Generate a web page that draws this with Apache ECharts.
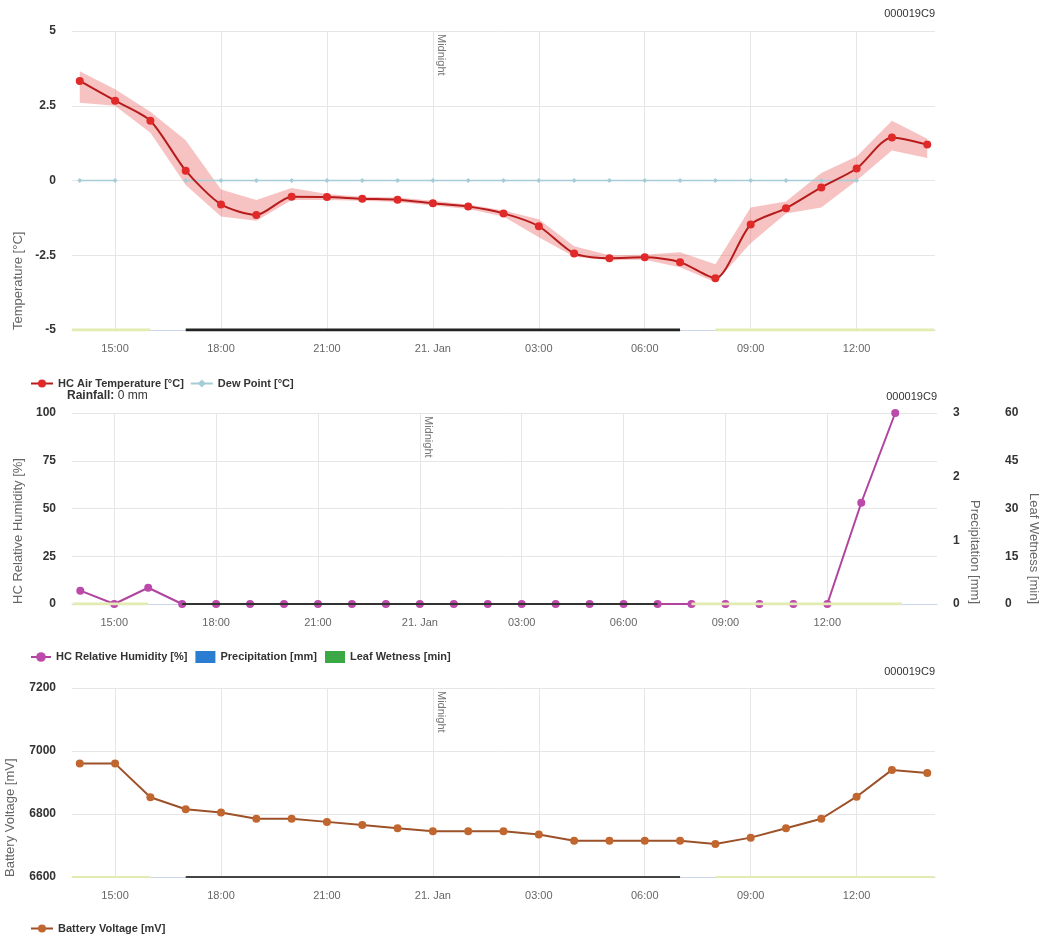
<!DOCTYPE html>
<html>
<head>
<meta charset="utf-8">
<script src="https://cdn.jsdelivr.net/npm/echarts@6/dist/echarts.min.js"></script>
<style>
html,body{margin:0;padding:0;background:#fff;}
#c{width:1051px;height:939px;}
</style>
</head>
<body>
<div id="c"></div>
<script>
// ---------------- DATA ----------------
const hours = [14,15,16,17,18,19,20,21,22,23,24,25,26,27,28,29,30,31,32,33,34,35,36,37,38];
const tempValues = [3.33,2.67,2.0,0.33,-0.8,-1.15,-0.54,-0.55,-0.61,-0.64,-0.76,-0.87,-1.1,-1.53,-2.44,-2.6,-2.57,-2.73,-3.27,-1.47,-0.93,-0.23,0.4,1.44,1.2];
const tempLow  = [2.6,2.5,1.6,-0.15,-1.2,-1.35,-0.65,-0.65,-0.68,-0.72,-0.84,-0.95,-1.2,-1.9,-2.55,-2.67,-2.65,-2.9,-3.4,-2.1,-1.1,-0.9,0.0,1.0,0.75];
const tempHigh = [3.65,3.05,2.3,1.35,-0.3,-0.65,-0.25,-0.45,-0.54,-0.57,-0.68,-0.8,-1.0,-1.3,-2.2,-2.5,-2.48,-2.4,-2.8,-0.9,-0.7,0.25,0.8,2.0,1.4];
const dewValues = [0,0,null,0,0,0,0,0,0,0,0,0,0,0,0,0,0,0,0,0,0,0,0,null,1.2];
const humidityValues = [7,0,8.5,0,0,0,0,0,0,0,0,0,0,0,0,0,0,0,0,0,0,0,0,53,100];
const precipitationValues = [0,0,0,0,0,0,0,0,0,0,0,0,0,0,0,0,0,0,0,0,0,0,0,0,0];
const leafWetnessValues = [0,0,0,0,0,0,0,0,0,0,0,0,0,0,0,0,0,0,0,0,0,0,0,0,0];
const batteryValues = [6960,6960,6853,6815,6805,6785,6785,6775,6765,6755,6745,6745,6745,6735,6715,6715,6715,6715,6705,6725,6755,6785,6855,6940,6930];

const xTickHours = [15,18,21,24,27,30,33,36];
const xTickLabels = ['15:00','18:00','21:00','21. Jan','03:00','06:00','09:00','12:00'];
const midnightHour = 24;
const nightSpans = [[17,31]];
const daySpans = [[13.78,16],[32,38.2]];

const tempAxis = {min:-5, max:5, interval:2.5};
const humidityAxis = {min:0, max:100, interval:25};
const precipAxis = {min:0, max:3, interval:1};
const leafAxis = {min:0, max:60, interval:15};
const batteryAxis = {min:6600, max:7200, interval:200};

const deviceId = '000019C9';
const rainfallText = '0 mm';

// ---------------- LAYOUT ----------------
const FONT = '"Liberation Sans", Arial, sans-serif';
const grids = [
  {left:72, top:31, width:863, height:299},
  {left:72, top:413, width:865, height:191},
  {left:72, top:688, width:863, height:189}
];
const xRanges = [[13.78,38.22],[13.756,39.23],[13.78,38.22]];

const pairs = (vals) => hours.map((h,i) => [h, vals[i]]);

function xAxisFor(i){
  return {
    type:'value', gridIndex:i, min:xRanges[i][0], max:xRanges[i][1],
    axisLine:{show:true, onZero:false, lineStyle:{color:'#ccd6eb', width:1}},
    axisTick:{show:false, customValues:xTickHours},
    axisLabel:{customValues:xTickHours, color:'#666', fontSize:11, margin:13, fontFamily:FONT,
      formatter:(v)=>{ const k = xTickHours.indexOf(Math.round(v)); return k>=0 ? xTickLabels[k] : ''; }},
    splitLine:{show:true, lineStyle:{color:'#e6e6e6', width:1}}
  };
}
function yAxisFor(gi, ax, extra){
  return Object.assign({
    type:'value', gridIndex:gi, min:ax.min, max:ax.max, interval:ax.interval,
    axisLine:{show:false}, axisTick:{show:false},
    axisLabel:{color:'#333', fontWeight:'bold', fontSize:12, margin:16, fontFamily:FONT, formatter:(v)=>String(v)},
    splitLine:{show:true, lineStyle:{color:'#e6e6e6', width:1}}
  }, extra || {});
}

function spanSeries(gi, yi, yMin, spans, color, width){
  return spans.map(s => ({
    type:'line', xAxisIndex:gi, yAxisIndex:yi,
    data:[[s[0], yMin],[s[1], yMin]],
    symbol:'none', silent:true, z:4,
    lineStyle:{color:color, width:width}
  }));
}

const DAY = '#e4ebb2';
const series = [
  // temperature min/max band drawn as one polygon through the axis scales
  {type:'custom', xAxisIndex:0, yAxisIndex:0, silent:true, z:1,
   data:pairs(tempValues),
   renderItem:(params, api)=>{
     if (params.dataIndex !== 0) return null;
     const upper = hours.map((h,i)=>api.coord([h, tempHigh[i]]));
     const lower = hours.map((h,i)=>api.coord([h, tempLow[i]])).reverse();
     return {type:'polygon', shape:{points:upper.concat(lower)},
       style:{fill:'rgba(235,95,95,0.38)'}};
   }},
  {type:'line', name:'Dew Point [°C]', xAxisIndex:0, yAxisIndex:0, data:pairs(dewValues),
   symbol:'diamond', symbolSize:5, connectNulls:false,
   lineStyle:{color:'#a6cdd6', width:1.5}, itemStyle:{color:'#a6cdd6'}, z:2},
  {type:'line', name:'HC Air Temperature [°C]', xAxisIndex:0, yAxisIndex:0, data:pairs(tempValues),
   symbol:'circle', symbolSize:8, smooth:0.25,
   lineStyle:{color:'#b71c1c', width:2}, itemStyle:{color:'#e02a2a'}, z:3},
  ...spanSeries(0, 0, tempAxis.min, daySpans, DAY, 3),
  ...spanSeries(0, 0, tempAxis.min, nightSpans, '#222', 3),

  // humidity chart
  {type:'line', name:'HC Relative Humidity [%]', xAxisIndex:1, yAxisIndex:1, data:pairs(humidityValues),
   symbol:'circle', symbolSize:8,
   lineStyle:{color:'#b0449f', width:2}, itemStyle:{color:'#bb4aaa'}, z:2},
  {type:'bar', name:'Precipitation [mm]', xAxisIndex:1, yAxisIndex:2, data:pairs(precipitationValues),
   itemStyle:{color:'#2a7dd1'}, barWidth:10},
  {type:'bar', name:'Leaf Wetness [min]', xAxisIndex:1, yAxisIndex:3, data:pairs(leafWetnessValues),
   itemStyle:{color:'#39a845'}, barWidth:10},
  ...spanSeries(1, 1, humidityAxis.min, daySpans, DAY, 3),
  ...spanSeries(1, 1, humidityAxis.min, nightSpans, '#333', 2),

  // battery chart
  {type:'line', name:'Battery Voltage [mV]', xAxisIndex:2, yAxisIndex:4, data:pairs(batteryValues),
   symbol:'circle', symbolSize:8,
   lineStyle:{color:'#9c5128', width:2}, itemStyle:{color:'#c2662f'}, z:3},
  ...spanSeries(2, 4, batteryAxis.min, daySpans, DAY, 2),
  ...spanSeries(2, 4, batteryAxis.min, nightSpans, '#444', 2)
];

const legendText = {color:'#333', fontWeight:'bold', fontSize:11, fontFamily:FONT};
const option = {
  animation:false,
  textStyle:{fontFamily:FONT},
  grid:grids.map(g=>Object.assign({containLabel:false}, g)),
  xAxis:[xAxisFor(0), xAxisFor(1), xAxisFor(2)],
  yAxis:[
    yAxisFor(0, tempAxis),
    yAxisFor(1, humidityAxis),
    yAxisFor(1, precipAxis, {position:'right', splitLine:{show:false},
      axisLabel:{color:'#333', fontWeight:'bold', fontSize:12, margin:16, fontFamily:FONT}}),
    yAxisFor(1, leafAxis, {position:'right', offset:50, splitLine:{show:false},
      axisLabel:{color:'#333', fontWeight:'bold', fontSize:12, margin:18, fontFamily:FONT}}),
    yAxisFor(2, batteryAxis)
  ],
  title:[
    {text:deviceId, right:116, top:8, padding:0, textStyle:{fontSize:11, fontWeight:'normal', color:'#333', fontFamily:FONT}},
    {text:'{b|Rainfall:} ' + rainfallText, left:67, top:390, padding:0,
     textStyle:{fontSize:12, fontWeight:'normal', color:'#333', fontFamily:FONT,
       rich:{b:{fontWeight:'bold', fontSize:12, color:'#333', fontFamily:FONT}}}},
    {text:deviceId, right:114, top:391, padding:0, textStyle:{fontSize:11, fontWeight:'normal', color:'#333', fontFamily:FONT}},
    {text:deviceId, right:116, top:666, padding:0, textStyle:{fontSize:11, fontWeight:'normal', color:'#333', fontFamily:FONT}}
  ],
  legend:[
    {data:['HC Air Temperature [°C]','Dew Point [°C]'], left:30, top:378, itemGap:6, itemWidth:22, itemHeight:10,
     padding:0, textStyle:legendText, selectedMode:false},
    {data:['HC Relative Humidity [%]', {name:'Precipitation [mm]', icon:'rect'}, {name:'Leaf Wetness [min]', icon:'rect'}],
     left:30, top:651, itemGap:8, itemWidth:20, itemHeight:12, padding:0, textStyle:legendText, selectedMode:false},
    {data:['Battery Voltage [mV]'], left:30, top:923, itemWidth:22, itemHeight:10, padding:0, textStyle:legendText, selectedMode:false}
  ],
  series:series
};

const chart = echarts.init(document.getElementById('c'));
chart.setOption(option);

// axis titles and midnight plot-line labels
const nameStyle = (t, align) => ({text:t, fill:'#666', font:'13px ' + FONT, align:align, verticalAlign:'middle',
  textAlign:align, textVerticalAlign:'middle'});
const graphics = [
  {type:'text', x:18, y:grids[0].top+grids[0].height, rotation:Math.PI/2, style:nameStyle('Temperature [°C]','left')},
  {type:'text', x:18, y:grids[1].top+grids[1].height, rotation:Math.PI/2, style:nameStyle('HC Relative Humidity [%]','left')},
  {type:'text', x:10, y:grids[2].top+grids[2].height, rotation:Math.PI/2, style:nameStyle('Battery Voltage [mV]','left')},
  {type:'text', x:975, y:grids[1].top+grids[1].height, rotation:-Math.PI/2, style:nameStyle('Precipitation [mm]','right')},
  {type:'text', x:1034, y:grids[1].top+grids[1].height, rotation:-Math.PI/2, style:nameStyle('Leaf Wetness [min]','right')}
];
[0,1,2].forEach(i=>{
  const px = chart.convertToPixel({xAxisIndex:i}, midnightHour);
  graphics.push({type:'text', x:px+8, y:grids[i].top+3, rotation:-Math.PI/2,
    style:{text:'Midnight', fill:'#777', font:'11px ' + FONT, align:'left', verticalAlign:'middle',
      textAlign:'left', textVerticalAlign:'middle'}});
});
chart.setOption({graphic:graphics});
</script>
</body>
</html>
